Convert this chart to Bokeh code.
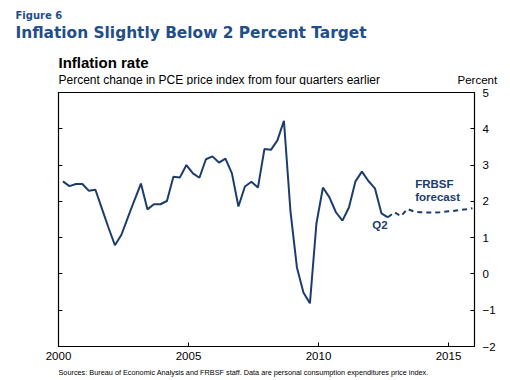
from bokeh.plotting import figure
from bokeh.models import LinearAxis, Label, FixedTicker, Range1d
from bokeh.core.properties import value
from bokeh.embed import file_html
from bokeh.resources import INLINE

# Quarterly PCE inflation (percent change from four quarters earlier), 2000Q1..2012Q3
actual = [2.55, 2.42, 2.48, 2.48, 2.29, 2.32, 1.80, 1.28, 0.79, 1.08, 1.56, 2.03,
          2.49, 1.78, 1.92, 1.92, 2.01, 2.68, 2.66, 3.00, 2.77, 2.65, 3.16, 3.24,
          3.07, 3.18, 2.77, 1.86, 2.41, 2.54, 2.38, 3.44, 3.42, 3.68, 4.22, 1.74,
          0.18, -0.51, -0.81, 1.39, 2.38, 2.11, 1.70, 1.47, 1.83, 2.55, 2.82, 2.56,
          2.36, 1.67, 1.56]
# FRBSF forecast, continuing from last actual quarter through 2015Q4
forecast = [1.56, 1.70, 1.59, 1.79, 1.72, 1.70, 1.69, 1.69, 1.70, 1.72, 1.73, 1.76, 1.78, 1.81]
start_year = 2000
x_ticks = [2000, 2005, 2010, 2015]
y_ticks = [-2, -1, 0, 1, 2, 3, 4, 5]

def qpos(i):
    return start_year + 0.25 * i + 0.17

xa = [qpos(i) for i in range(len(actual))]
xf = [qpos(len(actual) - 1 + i) for i in range(len(forecast))]

NAVY = "#1c3c6c"
BLUE = "#1f4e89"
W = 510
HEAD_H, MAIN_H, FOOT_H = 85, 277, 18
FL, FR = 58, 474


def text_fig(h):
    f = figure(width=W, height=h, output_backend="svg", toolbar_location=None, title=None,
               x_range=Range1d(0, W), y_range=Range1d(h, 0),
               x_axis_type=None, y_axis_type=None,
               min_border=0, min_border_left=0, min_border_right=0,
               min_border_top=0, min_border_bottom=0)
    f.grid.visible = False
    f.outline_line_color = None
    f.background_fill_color = "white"
    f.border_fill_color = "white"
    return f


def put(f, x, y, txt, size, bold=False, color="black", font="Liberation Sans"):
    f.text(x=[x], y=[y], text=[txt], text_font=value(font), text_font_size=size,
           text_font_style="bold" if bold else "normal", text_color=color,
           text_baseline="alphabetic", text_align="left")


head = text_fig(HEAD_H)
put(head, 15, 15.2, "Figure 6", "10px", True, BLUE, "DejaVu Sans")
put(head, 15, 32.4, "Inflation Slightly Below 2 Percent Target", "15.4px", True, BLUE, "DejaVu Sans")
put(head, 58, 62, "Inflation rate", "15px", True)
put(head, 58, 79, "Percent change in PCE price index from four quarters earlier", "12px")
put(head, 457, 79.2, "Percent", "11.5px")

foot = text_fig(FOOT_H)
put(foot, 58, 9.5, "Sources: Bureau of Economic Analysis and FRBSF staff.  Data are personal consumption expenditures price index.", "7.3px")

p = figure(width=W, height=MAIN_H, output_backend="svg", toolbar_location=None, title=None,
           x_range=Range1d(2000, 2016), y_range=Range1d(-2, 5),
           min_border_left=FL, min_border_right=W - FR, min_border_top=7,
           min_border_bottom=MAIN_H - 7 - 254)
p.grid.visible = False
p.outline_line_color = "black"
p.outline_line_width = 1.2
p.background_fill_color = "white"
p.border_fill_color = "white"

la = p.yaxis[0]
la.ticker = FixedTicker(ticks=y_ticks)
la.major_tick_in = 4
la.major_tick_out = 0
la.minor_tick_line_color = None
la.major_label_text_color = None
la.major_label_text_font_size = "11px"
la.axis_line_color = "black"

ra = LinearAxis(ticker=FixedTicker(ticks=y_ticks))
ra.major_tick_in = 4
ra.major_tick_out = 0
ra.minor_tick_line_color = None
ra.major_label_text_font = "Liberation Sans"
ra.major_label_text_font_size = "11.5px"
ra.major_label_text_color = "black"
ra.major_label_standoff = 8
p.add_layout(ra, "right")

ba = p.xaxis[0]
ba.ticker = FixedTicker(ticks=x_ticks)
ba.major_tick_in = 4
ba.major_tick_out = 0
ba.minor_tick_line_color = None
ba.major_label_text_font = "Liberation Sans"
ba.major_label_text_font_size = "11.5px"
ba.major_label_text_color = "black"
ba.major_label_standoff = 5

p.line(xa, actual, line_color=NAVY, line_width=2)
p.line(xf, forecast, line_color=NAVY, line_width=2, line_dash="5 4")

p.add_layout(Label(x=2013.72, y=1.95, text="FRBSF\nforecast", text_font="Liberation Sans",
                   text_font_style="bold", text_font_size="11.5px", text_color=NAVY,
                   text_line_height=1.1))
p.add_layout(Label(x=2012.07, y=1.17, text="Q2", text_font="Liberation Sans",
                   text_font_style="bold", text_font_size="11.5px", text_color=NAVY))

open("out.html", "w").write(file_html([head, p, foot], INLINE))
